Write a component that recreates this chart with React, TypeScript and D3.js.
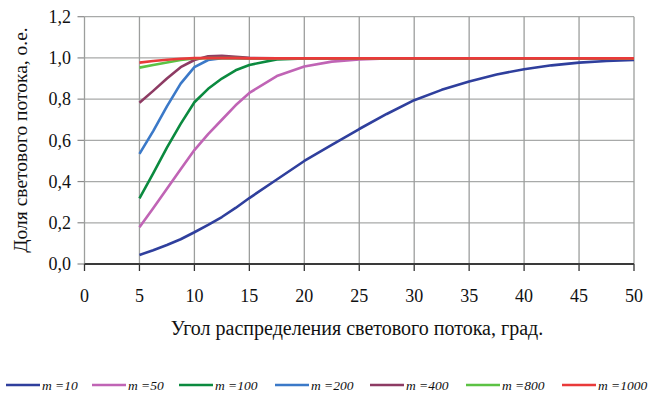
import React from "react";
import * as d3 from "d3";

const angles = [5, 6.25, 7.5, 8.75, 10, 11.25, 12.5, 13.75, 15, 17.5, 20, 22.5, 25, 27.5, 30, 32.5, 35, 37.5, 40, 42.5, 45, 47.5, 50];

const m10 = [0.044, 0.067, 0.092, 0.12, 0.154, 0.19, 0.228, 0.272, 0.32, 0.41, 0.5, 0.578, 0.655, 0.728, 0.795, 0.845, 0.886, 0.92, 0.945, 0.964, 0.977, 0.985, 0.99];
const m50 = [0.178, 0.27, 0.365, 0.46, 0.553, 0.63, 0.7, 0.77, 0.83, 0.912, 0.958, 0.982, 0.992, 0.997, 0.998, 0.998, 0.998, 0.998, 0.998, 0.998, 0.998, 0.998, 0.998];
const m100 = [0.319, 0.44, 0.565, 0.68, 0.785, 0.85, 0.9, 0.94, 0.966, 0.993, 0.998, 0.998, 0.998, 0.998, 0.998, 0.998, 0.998, 0.998, 0.998, 0.998, 0.998, 0.998, 0.998];
const m200 = [0.534, 0.645, 0.765, 0.875, 0.955, 0.99, 0.999, 0.999, 0.998, 0.998, 0.998, 0.998, 0.998, 0.998, 0.998, 0.998, 0.998, 0.998, 0.998, 0.998, 0.998, 0.998, 0.998];
const m400 = [0.782, 0.84, 0.9, 0.955, 0.99, 1.008, 1.01, 1.006, 1.0, 0.998, 0.998, 0.998, 0.998, 0.998, 0.998, 0.998, 0.998, 0.998, 0.998, 0.998, 0.998, 0.998, 0.998];
const m800 = [0.953, 0.966, 0.978, 0.99, 0.997, 0.999, 0.999, 0.999, 0.998, 0.998, 0.998, 0.998, 0.998, 0.998, 0.998, 0.998, 0.998, 0.998, 0.998, 0.998, 0.998, 0.998, 0.998];
const m1000 = [0.977, 0.985, 0.991, 0.996, 0.999, 0.999, 0.999, 0.999, 0.998, 0.998, 0.998, 0.998, 0.998, 0.998, 0.998, 0.998, 0.998, 0.998, 0.998, 0.998, 0.998, 0.998, 0.998];

const seriesNames = ["m =10", "m =50", "m =100", "m =200", "m =400", "m =800", "m =1000"];
const seriesValues = [m10, m50, m100, m200, m400, m800, m1000];
const seriesColors = ["#2f3f9d", "#c064b5", "#0b8a3f", "#3b79c8", "#8d3b63", "#5cc244", "#e93a3a"];

const xTicks = [0, 5, 10, 15, 20, 25, 30, 35, 40, 45, 50];
const yTicks = [0, 0.2, 0.4, 0.6, 0.8, 1.0, 1.2];

const xTitle = "Угол распределения светового потока, град.";
const yTitle = "Доля светового потока, о.е.";

const legendLineX = [6, 92, 179, 275, 370, 466, 562];

const FONT = '"Liberation Serif"';

export default function App() {
  const x = d3.scaleLinear().domain([0, 50]).range([84.5, 634]);
  const y = d3.scaleLinear().domain([0, 1.2]).range([264, 16.7]);
  const line = d3
    .line<[number, number]>()
    .x((d) => x(d[0]))
    .y((d) => y(d[1]));
  const fmt = (v: number) => v.toFixed(1).replace(".", ",");
  const ts: React.CSSProperties = { fontFamily: FONT };

  return (
    <svg
      width={650}
      height={394}
      style={{ position: "absolute", left: 0, top: 0, background: "#fff" }}
    >
      {/* horizontal grid */}
      {yTicks.map((t) => (
        <g key={"y" + t}>
          {t > 0 && (
            <line x1={x(0)} x2={x(50)} y1={y(t)} y2={y(t)} stroke="#a8aaa9" strokeWidth={1.3} />
          )}
          <line x1={x(0) - 7} x2={x(0)} y1={y(t)} y2={y(t)} stroke="#8a8a8a" strokeWidth={1.2} />
          <text x={71} y={y(t)} dy="0.35em" textAnchor="end" fontSize={18} fill="#111" style={ts}>
            {fmt(t)}
          </text>
        </g>
      ))}
      {/* vertical grid */}
      {xTicks.map((t) => (
        <g key={"x" + t}>
          <line x1={x(t)} x2={x(t)} y1={y(1.2)} y2={y(0)} stroke="#9c9e9d" strokeWidth={1.3} />
          <line x1={x(t)} x2={x(t)} y1={y(0)} y2={y(0) + 7} stroke="#333" strokeWidth={1.3} />
          <text x={x(t)} y={302} textAnchor="middle" fontSize={18} fill="#111" style={ts}>
            {t}
          </text>
        </g>
      ))}
      {/* x axis line */}
      <line x1={x(0)} x2={x(50)} y1={y(0)} y2={y(0)} stroke="#3a3a3a" strokeWidth={2} />

      {/* series */}
      {seriesValues.map((vals, i) => (
        <path
          key={seriesNames[i]}
          d={line(angles.map((a, j) => [a, vals[j]] as [number, number])) || ""}
          fill="none"
          stroke={seriesColors[i]}
          strokeWidth={2.6}
          strokeLinejoin="round"
        />
      ))}

      {/* axis titles */}
      <text x={357} y={335} textAnchor="middle" fontSize={20} fill="#111" style={ts}>
        {xTitle}
      </text>
      <text
        transform={`translate(27, ${140}) rotate(-90)`}
        textAnchor="middle"
        fontSize={19.5}
        fill="#111"
        style={ts}
      >
        {yTitle}
      </text>

      {/* legend */}
      {seriesNames.map((n, i) => (
        <g key={"lg" + n}>
          <line
            x1={legendLineX[i]}
            x2={legendLineX[i] + 34}
            y1={385}
            y2={385}
            stroke={seriesColors[i]}
            strokeWidth={2.6}
          />
          <text
            x={legendLineX[i] + 36}
            y={385}
            dy="0.35em"
            fontSize={13.5}
            fontStyle="italic"
            fill="#111"
            style={ts}
          >
            {n}
          </text>
        </g>
      ))}
    </svg>
  );
}
